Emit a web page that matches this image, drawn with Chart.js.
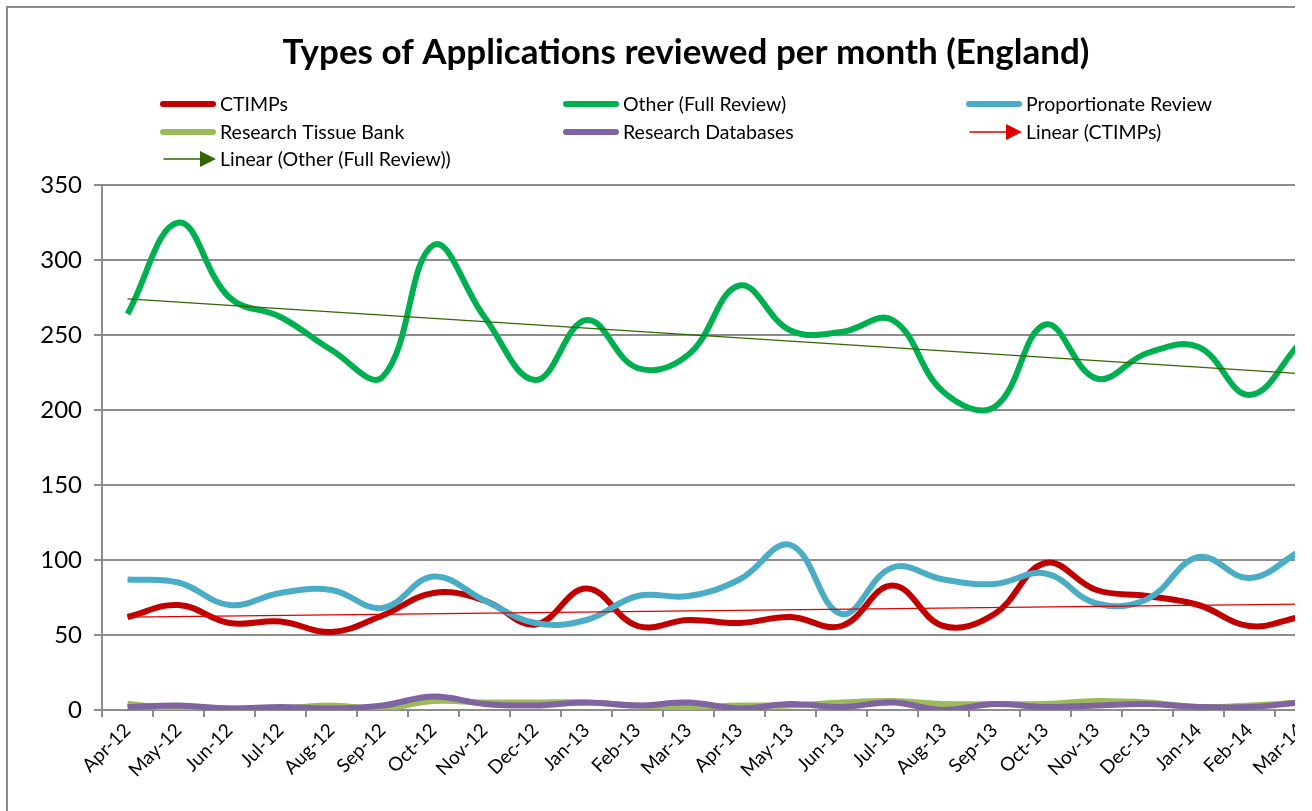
<!DOCTYPE html>
<html>
<head>
<meta charset="utf-8">
<script src="https://cdn.jsdelivr.net/npm/chart.js@4"></script>
<style>
  body { margin: 0; background: #fff; }
  #clip { position: absolute; left: 0; top: 0; width: 1295px; height: 811px; overflow: hidden; }
  #frame { position: absolute; left: 6px; top: 6px; border-left: 2px solid #8c8c8c; border-top: 2px solid #8c8c8c; }
  #types_chart { display: block; }
</style>
</head>
<body>
<div id="clip">
  <div id="frame">
    <canvas id="types_chart" width="1356" height="830"></canvas>
  </div>
</div>
<script>
const months = ["Apr-12", "May-12", "Jun-12", "Jul-12", "Aug-12", "Sep-12", "Oct-12", "Nov-12",
  "Dec-12", "Jan-13", "Feb-13", "Mar-13", "Apr-13", "May-13", "Jun-13", "Jul-13", "Aug-13",
  "Sep-13", "Oct-13", "Nov-13", "Dec-13", "Jan-14", "Feb-14", "Mar-14"];

const ctimps = [62, 70, 58, 59, 52, 63, 78, 73, 57, 81, 56, 60, 58, 62, 56, 83, 56, 64, 98, 80, 76, 70, 56, 62];
const otherFull = [264, 325, 275, 262, 240, 222, 310, 262, 220, 260, 228, 237, 283, 253, 252, 260, 212, 202, 257, 221, 238, 242, 210, 245];
const proportionate = [87, 85, 70, 78, 80, 68, 89, 73, 58, 60, 76, 76, 87, 110, 64, 95, 87, 84, 91, 71, 74, 102, 88, 106];
const tissueBank = [4, 1, 1, 1, 3, 1, 6, 5, 5, 5, 3, 2, 3, 3, 5, 6, 4, 4, 4, 6, 5, 2, 3, 5];
const databases = [2, 3, 1, 2, 1, 3, 9, 4, 3, 5, 3, 5, 1, 4, 2, 5, 0, 4, 2, 3, 4, 2, 2, 5];

const yTicks = [0, 50, 100, 150, 200, 250, 300, 350];

const chartTitle = "Types of Applications reviewed per month (England)";
const FONT = "Lato, 'Liberation Sans', sans-serif";

// least squares trend, only the two end points are kept (line is straight anyway)
function linearTrend(values) {
  const n = values.length;
  let sx = 0, sy = 0, sxy = 0, sxx = 0;
  values.forEach(function (v, i) {
    sx += i; sy += v; sxy += i * v; sxx += i * i;
  });
  const b = (n * sxy - sx * sy) / (n * sxx - sx * sx);
  const a = (sy - b * sx) / n;
  return values.map(function (v, i) {
    return i === 0 || i === n - 1 ? a + b * i : null;
  });
}

function series(label, data, color, order) {
  return {
    label: label,
    data: data,
    borderColor: color,
    backgroundColor: color,
    borderWidth: 6,
    pointRadius: 0,
    tension: 0.4,
    order: order,
  };
}

function trend(label, data, color) {
  const last = data.length - 1;
  return {
    label: label,
    data: data,
    borderColor: color,
    backgroundColor: color,
    borderWidth: 1.3,
    spanGaps: true,
    tension: 0,
    order: 0,
    pointStyle: "triangle",
    pointRotation: 90,
    pointBorderWidth: 0,
    pointRadius: function (c) { return c.dataIndex === last ? 8 : 0; },
    trendArrow: true,
  };
}

// title + legend in 3 fixed columns, like the spreadsheet one.
// the plot runs past the right edge, so the title is centred on the whole canvas
const headerPlugin = {
  id: "header",
  afterDraw(chart) {
    const ctx = chart.ctx;
    const cols = [152, 555, 958];
    const rows = [96, 124, 151];
    ctx.save();
    ctx.fillStyle = "#000";
    ctx.textAlign = "center";
    ctx.textBaseline = "middle";
    ctx.font = "bold 35px " + FONT;
    ctx.fillText(chartTitle, chart.width / 2, 45);

    ctx.textAlign = "left";
    ctx.font = "19.5px " + FONT;
    chart.data.datasets.forEach(function (ds, i) {
      const x = cols[i % 3];
      const y = rows[Math.floor(i / 3)];
      ctx.strokeStyle = ds.borderColor;
      ctx.fillStyle = ds.borderColor;
      if (ds.trendArrow) {
        ctx.lineWidth = 1.5;
        ctx.beginPath();
        ctx.moveTo(x + 4, y);
        ctx.lineTo(x + 44, y);
        ctx.stroke();
        ctx.beginPath();
        ctx.moveTo(x + 40, y - 8);
        ctx.lineTo(x + 56, y);
        ctx.lineTo(x + 40, y + 8);
        ctx.closePath();
        ctx.fill();
      } else {
        ctx.lineWidth = 6;
        ctx.lineCap = "round";
        ctx.beginPath();
        ctx.moveTo(x + 3, y);
        ctx.lineTo(x + 53, y);
        ctx.stroke();
      }
      ctx.fillStyle = "#000";
      ctx.fillText(ds.label, x + 60, y + 1);
    });
    ctx.restore();
  },
};

new Chart(document.getElementById("types_chart"), {
  type: "line",
  data: {
    labels: months,
    datasets: [
      series("CTIMPs", ctimps, "#C00000", 5),
      series("Other (Full Review)", otherFull, "#00B050", 4),
      series("Proportionate Review", proportionate, "#4BACC6", 3),
      series("Research Tissue Bank", tissueBank, "#9BBB59", 2),
      series("Research Databases", databases, "#8064A2", 1),
      trend("Linear (CTIMPs)", linearTrend(ctimps), "#E00000"),
      trend("Linear (Other (Full Review))", linearTrend(otherFull), "#336600"),
    ],
  },
  options: {
    responsive: false,
    animation: false,
    layout: {
      padding: { left: 0, right: 38, top: 177, bottom: 0 },
    },
    plugins: {
      legend: { display: false },
      tooltip: { enabled: false },
      title: { display: false },
    },
    scales: {
      x: {
        offset: true,
        afterFit: function (scale) { scale.height = 128; },
        grid: {
          offset: true,
          drawOnChartArea: false,
          drawTicks: true,
          tickLength: 7,
          color: "#8c8c8c",
          lineWidth: 2,
        },
        border: { color: "#8c8c8c", width: 2 },
        ticks: {
          autoSkip: false,
          minRotation: 45,
          maxRotation: 45,
          color: "#000",
          padding: 2,
          font: { family: FONT, size: 19 },
        },
      },
      y: {
        min: 0,
        max: 350,
        afterFit: function (scale) { scale.width = 94; },
        afterBuildTicks: function (scale) {
          scale.ticks = yTicks.map(function (v) { return { value: v }; });
        },
        grid: {
          color: "#8c8c8c",
          lineWidth: 2,
          tickLength: 8,
        },
        border: { color: "#8c8c8c", width: 2 },
        ticks: {
          color: "#000",
          padding: 12,
          font: { family: FONT, size: 24 },
        },
      },
    },
  },
  plugins: [headerPlugin],
});
</script>
</body>
</html>
